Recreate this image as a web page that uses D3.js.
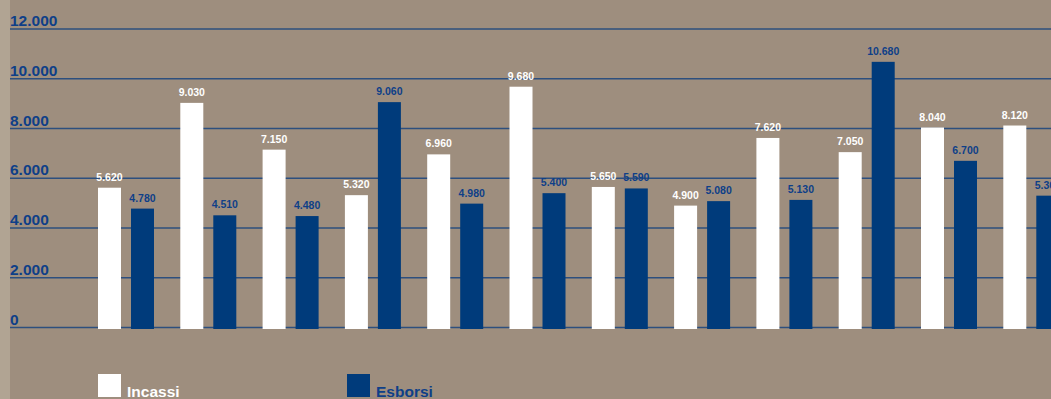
<!DOCTYPE html>
<html>
<head>
<meta charset="utf-8">
<script src="https://cdn.jsdelivr.net/npm/d3@7"></script>
<style>
  body { margin: 0; background: #9e8e7e; }
  svg { display: block; font-family: "Liberation Sans", Arial, sans-serif; }
</style>
</head>
<body>
<svg id="chart"></svg>
<script>
// categories are not labelled in the chart, one per pair of bars
const categories = ["1", "2", "3", "4", "5", "6", "7", "8", "9", "10", "11", "12"];
const series = ["Incassi", "Esborsi"];
const incassi = [5620, 9030, 7150, 5320, 6960, 9680, 5650, 4900, 7620, 7050, 8040, 8120];
const esborsi = [4780, 4510, 4480, 9060, 4980, 5400, 5590, 5080, 5130, 10680, 6700, 5300];
const yTicks = [0, 2000, 4000, 6000, 8000, 10000, 12000];

const width = 1051, height = 399;
const white = "#ffffff", blue = "#003b7b", labelBlue = "#0e3f88";
const fmt = v => d3.format(",")(v).replace(/,/g, ".");

const svg = d3.select("#chart").attr("width", width).attr("height", height);

svg.append("rect").attr("width", width).attr("height", height).attr("fill", "#9e8e7e");
svg.append("rect").attr("width", 10).attr("height", height).attr("fill", "#b1a493");

const y = d3.scaleLinear().domain([0, 12000]).range([327.5, 29]);
const x0 = d3.scaleBand().domain(categories).range([81, 81 + 12 * 82.3]);
const x1 = d3.scaleBand().domain(series).range([17, 73]).paddingInner(10 / 33);
const color = d3.scaleOrdinal().domain(series).range([white, blue]);
const textColor = d3.scaleOrdinal().domain(series).range([white, labelBlue]);

// gridlines + tick labels
const grid = svg.append("g");
grid.selectAll("line")
  .data(yTicks)
  .enter()
  .append("line")
  .attr("x1", 10)
  .attr("x2", width)
  .attr("y1", d => y(d))
  .attr("y2", d => y(d))
  .attr("stroke", "#2d4f7e")
  .attr("stroke-width", 1.3);
grid.selectAll("text")
  .data(yTicks)
  .enter()
  .append("text")
  .attr("x", 10)
  .attr("y", d => y(d) - 3)
  .attr("fill", labelBlue)
  .attr("font-size", 15.5)
  .attr("font-weight", "bold")
  .text(d => fmt(d));

const rows = categories.map((c, i) => ({
  cat: c,
  values: [{ key: "Incassi", value: incassi[i] }, { key: "Esborsi", value: esborsi[i] }]
}));

const groups = svg.append("g").selectAll("g")
  .data(rows)
  .enter()
  .append("g")
  .attr("transform", d => `translate(${x0(d.cat)},0)`);

groups.selectAll("rect")
  .data(d => d.values)
  .enter()
  .append("rect")
  .attr("x", d => x1(d.key))
  .attr("width", x1.bandwidth())
  .attr("y", d => y(d.value))
  .attr("height", d => y(0) + 1.5 - y(d.value))
  .attr("fill", d => color(d.key));

groups.selectAll("text")
  .data(d => d.values)
  .enter()
  .append("text")
  .attr("x", d => x1(d.key) + x1.bandwidth() / 2)
  .attr("y", d => y(d.value) - 7)
  .attr("text-anchor", "middle")
  .attr("fill", d => textColor(d.key))
  .attr("font-size", 10.5)
  .attr("font-weight", "bold")
  .text(d => fmt(d.value));

// legend
const legend = svg.append("g").selectAll("g")
  .data(series)
  .enter()
  .append("g")
  .attr("transform", (d, i) => `translate(${[98, 347][i]},374)`);
legend.append("rect")
  .attr("width", 23)
  .attr("height", 23)
  .attr("fill", d => color(d));
legend.append("text")
  .attr("x", 29)
  .attr("y", 23)
  .attr("fill", d => textColor(d))
  .attr("font-size", 15.5)
  .attr("font-weight", "bold")
  .text(d => d);
</script>
</body>
</html>
